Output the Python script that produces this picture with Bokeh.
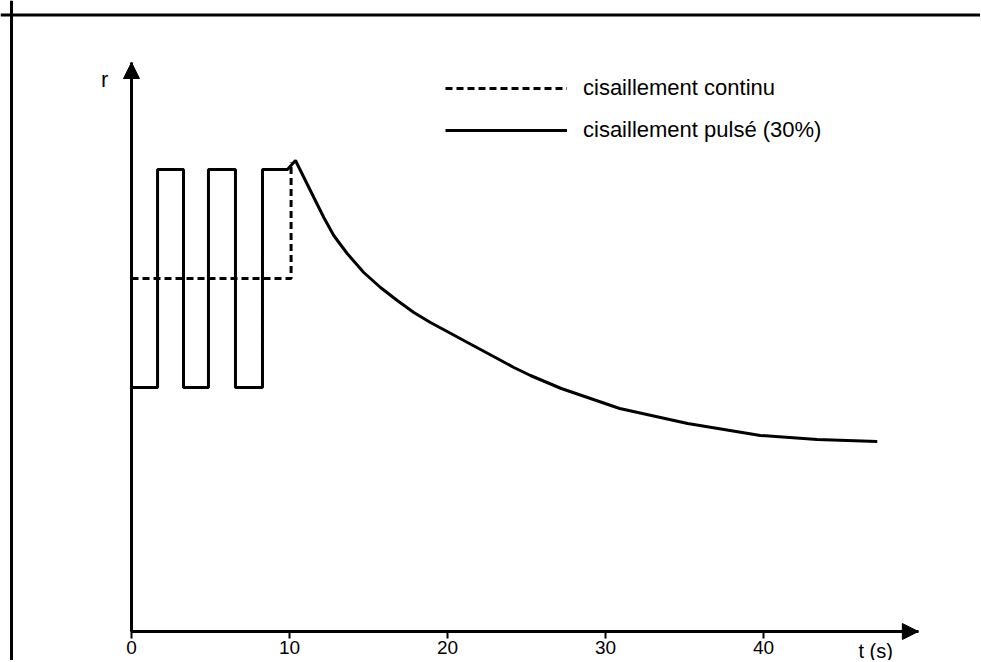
from bokeh.plotting import figure
from bokeh.models import Range1d, FixedTicker, Arrow, NormalHead, Label, Span, Legend, LegendItem
from bokeh.embed import file_html
from bokeh.resources import INLINE

# ---- data ----
series_names = ["cisaillement continu", "cisaillement pulsé (30%)"]
x_ticks = [0, 10, 20, 30, 40]
x_title = "t (s)"
y_title = "r"

t_cont = [0, 10.1, 10.1]
r_cont = [35.3, 35.3, 46.9]

t_pulse = [0, 1.65, 1.65, 3.29, 3.29, 4.87, 4.87, 6.58, 6.58, 8.29, 8.29, 9.87,
           10.38, 11.54, 12.17, 12.80, 13.65, 14.70, 15.76, 16.82, 17.87, 18.92,
           19.98, 21.03, 22.09, 23.15, 24.20, 25.25, 27.2, 30.9, 35.2, 39.8,
           43.4, 47.2]
r_pulse = [24.4, 24.4, 46.2, 46.2, 24.4, 24.4, 46.2, 46.2, 24.4, 24.4, 46.2, 46.2,
           47.1, 43.4, 41.4, 39.6, 37.8, 35.9, 34.4, 33.1, 31.9, 30.9,
           30.0, 29.1, 28.2, 27.3, 26.4, 25.6, 24.3, 22.3, 20.8, 19.6,
           19.2, 19.0]

x_axis_end = 49.8
y_axis_end = 56.9

# ---- layout ----
W, H = 980, 660
ox, oy = 131, 631          # origin position in canvas px
sx, sy = 15.8, 10.0        # px per unit
x_range = Range1d(-ox / sx, (W - ox) / sx)
y_range = Range1d(-(H - oy) / sy, oy / sy)

FONT = "Liberation Sans"

p = figure(width=W, height=H, x_range=x_range, y_range=y_range,
           output_backend="svg", toolbar_location=None, min_border=0,
           outline_line_color=None, background_fill_color="white",
           border_fill_color="white")
p.grid.visible = False

# axes through origin
p.xaxis.fixed_location = 0
p.xaxis.bounds = (0, x_axis_end)
p.xaxis.ticker = FixedTicker(ticks=x_ticks)
p.xaxis.minor_tick_line_color = None
p.xaxis.major_tick_in = 0
p.xaxis.major_tick_out = 7
p.xaxis.major_tick_line_width = 2
p.xaxis.axis_line_width = 3
p.xaxis.major_label_standoff = 2
p.xaxis.major_label_text_font = FONT
p.xaxis.major_label_text_font_size = "19px"
p.xaxis.major_label_text_color = "black"

p.yaxis.fixed_location = 0
p.yaxis.bounds = (0, y_axis_end)
p.yaxis.ticker = FixedTicker(ticks=[])
p.yaxis.minor_tick_line_color = None
p.yaxis.axis_line_width = 3
p.yaxis.major_label_text_font_size = "0px"

# arrow heads
p.add_layout(Arrow(end=NormalHead(size=16, fill_color="black", line_color="black"),
                   x_start=0, y_start=0, x_end=x_axis_end, y_end=0, line_width=3))
p.add_layout(Arrow(end=NormalHead(size=16, fill_color="black", line_color="black"),
                   x_start=0, y_start=0, x_end=0, y_end=y_axis_end, line_width=3))

# axis titles
p.add_layout(Label(x=47.1, y=0, y_offset=-8, text=x_title, text_align="center",
                   text_baseline="top", text_font=FONT, text_font_size="20px",
                   text_color="black"))
p.add_layout(Label(x=-1.7, y=55.2, text=y_title, text_align="center",
                   text_baseline="middle", text_font=FONT, text_font_size="22px",
                   text_color="black"))

# frame lines (left and top of the figure box)
p.add_layout(Span(location=x_range.start + 11 / sx, dimension="height",
                  line_color="black", line_width=3))
p.add_layout(Span(location=y_range.end - 14.5 / sy, dimension="width",
                  line_color="black", line_width=3))

# data lines
r1 = p.line(t_cont, r_cont, line_color="black", line_width=3, line_dash="7 4")
r2 = p.line(t_pulse, r_pulse, line_color="black", line_width=3)

legend = Legend(items=[LegendItem(label=series_names[0], renderers=[r1]),
                       LegendItem(label=series_names[1], renderers=[r2])],
                location=(445, H - 143), glyph_width=122, glyph_height=24,
                label_height=24, spacing=16, padding=0, margin=0,
                border_line_color=None, background_fill_alpha=0,
                label_text_font=FONT, label_text_font_size="22px",
                label_text_color="black", label_standoff=16)
p.add_layout(legend)

open("out.html", "w").write(file_html(p, INLINE))
